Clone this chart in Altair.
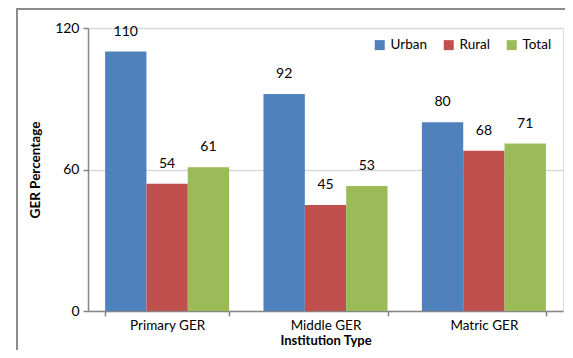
import altair as alt
import pandas as pd

categories = ["Primary GER", "Middle GER", "Matric GER"]
series = ["Urban", "Rural", "Total"]
urban = [110, 92, 80]
rural = [54, 45, 68]
total = [61, 53, 71]
colors = ["#4F81BD", "#C0504D", "#9BBB59"]

rows = []
for i, c in enumerate(categories):
    for s, vals in zip(series, [urban, rural, total]):
        rows.append({"Institution Type": c, "Area": s, "GER": vals[i]})
df = pd.DataFrame(rows)

FONT = "Lato"

x = alt.X("Institution Type:N", sort=categories,
          scale=alt.Scale(paddingInner=0.217, paddingOuter=0.108),
          axis=alt.Axis(title="Institution Type", labelAngle=0, tickBand="extent",
                        labelFontSize=13.5, titleFontSize=13, titleFontWeight="bold",
                        labelPadding=2, titlePadding=3, tickSize=5,
                        domainColor="#868686", tickColor="#868686",
                        domainWidth=1.5, tickWidth=1.5, grid=False))
xo = alt.XOffset("Area:N", sort=series)
y = alt.Y("GER:Q", scale=alt.Scale(domain=[0, 120]),
          axis=alt.Axis(title="GER Percentage", values=[0, 60, 120],
                        labelFontSize=14, titleFontSize=13.5, titleFontWeight="bold",
                        tickSize=5, labelPadding=4, titlePadding=12,
                        domainColor="#868686", tickColor="#868686",
                        domainWidth=1.5, tickWidth=1.5,
                        gridColor="#D9D9D9", gridWidth=1.5))

bars = alt.Chart(df).mark_bar().encode(
    x=x, xOffset=xo, y=y,
    color=alt.Color("Area:N", sort=series,
                    scale=alt.Scale(domain=series, range=colors),
                    legend=alt.Legend(title=None, orient="none", legendX=285, legendY=10,
                                      direction="horizontal", symbolType="square",
                                      symbolSize=100, symbolStrokeWidth=0,
                                      labelFontSize=13.5, labelOffset=4, columnPadding=15,
                                      symbolOpacity=1)),
)

labels = alt.Chart(df).mark_text(baseline="bottom", dy=-13, fontSize=14, font=FONT,
                                 color="#000000").encode(
    x=alt.X("Institution Type:N", sort=categories), xOffset=xo,
    y="GER:Q", text="GER:Q"
)

border = alt.Chart(df).mark_rect(filled=False, stroke="#8C8C8C", strokeWidth=1.2).encode(
    x=alt.value(-71), x2=alt.value(520), y=alt.value(-19), y2=alt.value(400)
)

chart = alt.layer(border, bars, labels).properties(
    width=475, height=283,
    autosize=alt.AutoSizeParams(type="none"),
    padding={"left": 80, "top": 20, "right": 2, "bottom": 39},
).configure_view(stroke=None).configure(font=FONT).configure_axis(
    labelColor="#000000", titleColor="#000000", labelFont=FONT, titleFont=FONT
).configure_legend(labelFont=FONT, labelColor="#000000")

chart.save("out.html", embed_options={"renderer": "svg", "actions": False})
